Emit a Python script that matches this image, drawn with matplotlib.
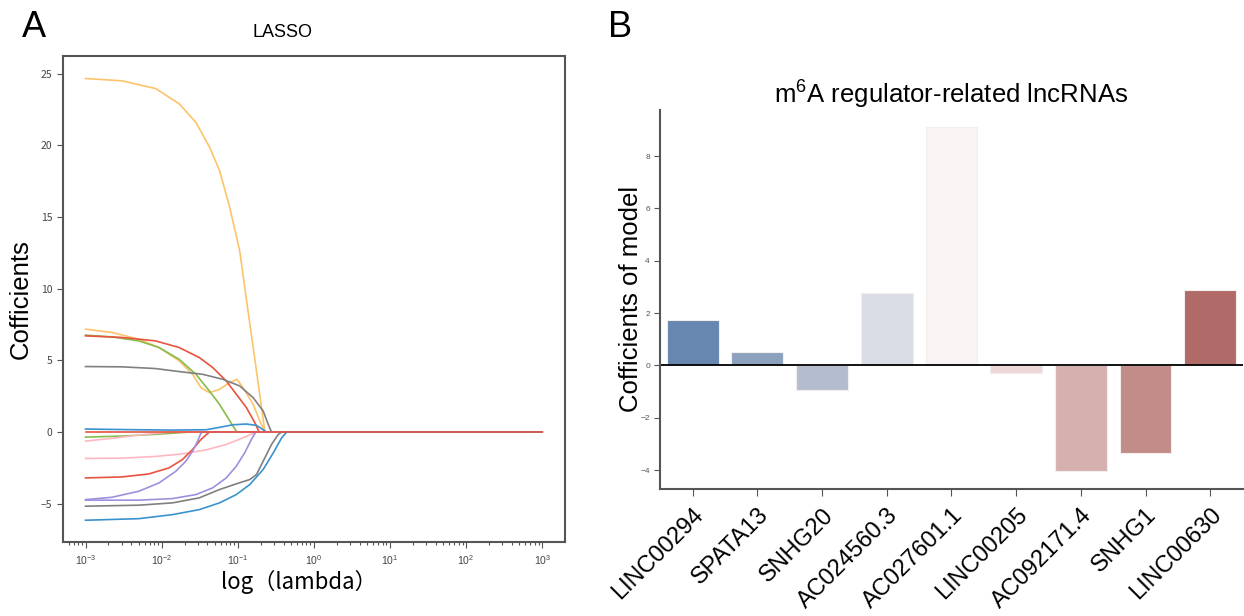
import matplotlib
matplotlib.use("Agg")
import matplotlib.pyplot as plt
import numpy as np

plt.rcParams["font.family"] = ["Liberation Sans", "DejaVu Sans"]
plt.rcParams["mathtext.fontset"] = "custom"
plt.rcParams["mathtext.rm"] = "Liberation Sans"

# ---- panel A: LASSO coefficient paths (x = log10 lambda) ----
ORANGE_BIG_X = [-3.0, -2.523, -2.08, -1.77, -1.55, -1.373, -1.24, -1.107, -0.975, -0.887, -0.763, -0.643, 3.0]
ORANGE_BIG_Y = [24.66, 24.5, 23.96, 22.9, 21.6, 19.9, 18.25, 15.7, 12.66, 9.28, 4.6, 0.0, 0.0]

ORANGE_X = [-3.0, -2.655, -2.301, -2.036, -1.771, -1.594, -1.484, -1.373, -1.24, -1.107, -1.01, -0.931, -0.798, -0.71, -0.643, 3.0]
ORANGE_Y = [7.18, 6.95, 6.48, 5.9, 4.97, 4.03, 3.1, 2.75, 2.98, 3.45, 3.68, 3.1, 1.94, 0.77, 0.0, 0.0]

GREEN_X = [-3.0, -2.655, -2.301, -2.036, -1.771, -1.55, -1.373, -1.24, -1.13, -1.063, -1.01, 3.0]
GREEN_Y = [6.76, 6.64, 6.36, 5.9, 5.08, 4.03, 2.87, 1.94, 1.0, 0.42, 0.0, 0.0]

RED_X = [-3.0, -2.523, -2.081, -1.771, -1.506, -1.329, -1.152, -1.019, -0.887, -0.776, -0.719, 3.0]
RED_Y = [6.71, 6.6, 6.36, 5.9, 5.2, 4.5, 3.57, 2.64, 1.71, 0.66, 0.0, 0.0]

GRAY_X = [-3.0, -2.523, -2.081, -1.771, -1.462, -1.196, -0.975, -0.798, -0.666, -0.6, -0.556, 3.0]
GRAY_Y = [4.57, 4.55, 4.43, 4.22, 4.03, 3.68, 3.22, 2.4, 1.47, 0.54, 0.0, 0.0]

BLUE_X = [-3.0, -2.301, -1.859, -1.417, -1.24, -1.063, -0.887, -0.754, -0.666, -0.622, 3.0]
BLUE_Y = [0.21, 0.16, 0.14, 0.16, 0.33, 0.51, 0.56, 0.47, 0.16, 0.0, 0.0]

GREEN_NEG_X = [-3.0, -2.523, -2.081, -1.771, -1.64, 3.0]
GREEN_NEG_Y = [-0.35, -0.28, -0.16, -0.05, 0.0, 0.0]

PINK_SMALL_X = [-3.0, -2.655, -2.301, -2.036, -1.9, 3.0]
PINK_SMALL_Y = [-0.63, -0.44, -0.21, -0.07, 0.0, 0.0]

PINK_X = [-3.0, -2.523, -2.081, -1.727, -1.417, -1.152, -0.931, -0.776, -0.75, 3.0]
PINK_Y = [-1.84, -1.82, -1.7, -1.52, -1.24, -0.87, -0.4, -0.05, 0.0, 0.0]

RED_NEG_X = [-3.0, -2.523, -2.169, -1.904, -1.727, -1.594, -1.484, -1.373, 3.0]
RED_NEG_Y = [-3.2, -3.13, -2.92, -2.5, -1.92, -1.22, -0.52, 0.0, 0.0]

PURPLE_X = [-3.0, -2.655, -2.301, -2.036, -1.815, -1.683, -1.594, -1.528, -1.484, -1.46, 3.0]
PURPLE_Y = [-4.71, -4.55, -4.13, -3.55, -2.74, -2.04, -1.34, -0.65, -0.07, 0.0, 0.0]

PURPLE2_X = [-3.0, -2.301, -1.859, -1.55, -1.329, -1.152, -1.019, -0.909, -0.82, -0.763, 3.0]
PURPLE2_Y = [-4.75, -4.75, -4.64, -4.36, -3.89, -3.2, -2.38, -1.45, -0.51, 0.0, 0.0]

GRAY_NEG_X = [-3.0, -2.301, -1.859, -1.506, -1.24, -1.019, -0.842, -0.754, -0.666, -0.556, -0.467, -0.423, 3.0]
GRAY_NEG_Y = [-5.17, -5.1, -4.94, -4.59, -4.01, -3.61, -3.31, -2.96, -2.03, -0.86, -0.16, 0.0, 0.0]

BLUE_NEG_X = [-3.0, -2.301, -1.859, -1.506, -1.24, -1.019, -0.842, -0.666, -0.533, -0.423, -0.357, 3.0]
BLUE_NEG_Y = [-6.15, -6.04, -5.76, -5.41, -4.94, -4.36, -3.66, -2.61, -1.45, -0.4, 0.0, 0.0]

ZERO_X = [-3.0, 3.0]
ZERO_Y = [0.0, 0.0]

LAMBDA_TICKS = [1e-3, 1e-2, 1e-1, 1e0, 1e1, 1e2, 1e3]

# ---- panel B: model coefficients ----
GENES = ["LINC00294", "SPATA13", "SNHG20", "AC024560.3", "AC027601.1",
         "LINC00205", "AC092171.4", "SNHG1", "LINC00630"]
COEFS = [1.72, 0.52, -0.92, 2.75, 9.1, -0.27, -4.05, -3.35, 2.87]
BAR_COLORS = ["#6787b0", "#8ca1be", "#b4bdcf", "#d9dde6", "#f8f4f3",
              "#edd6d6", "#d6b0ae", "#c28c89", "#b06b68"]

PATH_STYLE = [
    (ORANGE_BIG_X, ORANGE_BIG_Y, "#fdc36a"),
    (ORANGE_X, ORANGE_Y, "#fdc36a"),
    (GREEN_X, GREEN_Y, "#86bc4b"),
    (RED_X, RED_Y, "#e8533f"),
    (GRAY_X, GRAY_Y, "#808080"),
    (BLUE_X, BLUE_Y, "#3a92cf"),
    (GREEN_NEG_X, GREEN_NEG_Y, "#86bc4b"),
    (PINK_SMALL_X, PINK_SMALL_Y, "#ffb8c2"),
    (PINK_X, PINK_Y, "#ffb8c2"),
    (RED_NEG_X, RED_NEG_Y, "#e8533f"),
    (PURPLE_X, PURPLE_Y, "#9d91de"),
    (PURPLE2_X, PURPLE2_Y, "#9d91de"),
    (GRAY_NEG_X, GRAY_NEG_Y, "#808080"),
    (BLUE_NEG_X, BLUE_NEG_Y, "#3a92cf"),
    (ZERO_X, ZERO_Y, "#e8533f"),
]

SPINE = "#555555"

fig = plt.figure(figsize=(12.44, 6.16), dpi=100)

# ---------- A ----------
ax1 = fig.add_axes([0.0504, 0.1196, 0.4038, 0.7888])
for xs, ys, c in PATH_STYLE:
    ax1.plot(10.0 ** np.array(xs), ys, color=c, linewidth=1.2)
ax1.set_xscale("log")
ax1.set_xticks(LAMBDA_TICKS)
ax1.set_yticks([-5, 0, 5, 10, 15, 20, 25])
for s in ax1.spines.values():
    s.set_color(SPINE)
    s.set_linewidth(1.5)
ax1.tick_params(axis="both", which="both", colors=SPINE, labelsize=7.5,
                labelcolor="#444444", width=0.8)
ax1.tick_params(axis="both", which="major", length=4)
ax1.tick_params(axis="x", which="minor", length=2.5)
for lab in ax1.get_yticklabels():
    lab.set_family(["Noto Sans CJK SC", "DejaVu Sans"])
ax1.set_title("LASSO", fontsize=13, pad=14, x=0.437)
ax1.set_xlabel("log（lambda）", fontsize=16,
               family=["Noto Sans CJK SC", "DejaVu Sans"])
ax1.xaxis.set_label_coords(0.471, -0.056)
ax1.xaxis.label.set_va("top")
ax1.set_ylabel("Cofficients", fontsize=18.5, labelpad=6)

# ---------- B ----------
ax2 = fig.add_axes([0.5308, 0.2067, 0.4681, 0.6147])
xpos = np.arange(len(GENES))
ax2.bar(xpos, COEFS, width=0.8, color=BAR_COLORS, edgecolor="#f2eeee", linewidth=0.8)
ax2.axhline(0, color="black", linewidth=1.3)
ax2.set_xlim(-0.5, len(GENES) - 0.5)
ax2.set_yticks([-4, -2, 0, 2, 4, 6, 8])
ax2.set_xticks(xpos)
ax2.set_xticklabels(GENES, rotation=45, ha="right", va="top",
                    rotation_mode="anchor", fontsize=17)
ax2.spines["top"].set_visible(False)
ax2.spines["right"].set_visible(False)
for side in ("left", "bottom"):
    ax2.spines[side].set_color(SPINE)
    ax2.spines[side].set_linewidth(1.5)
ax2.tick_params(axis="y", colors=SPINE, labelsize=6, labelcolor="#555555", length=4, width=0.8)
ax2.tick_params(axis="x", colors=SPINE, length=5, width=0.8, pad=6, labelcolor="black")
ax2.set_title(r"m$^{\mathdefault{6}}$A regulator-related lncRNAs", fontsize=18.5, pad=4)
ax2.set_ylabel("Cofficients of model", fontsize=18.5, labelpad=-2)

fig.text(0.018, 0.94, "A", fontsize=26)
fig.text(0.489, 0.94, "B", fontsize=26)

fig.savefig("out.png", dpi=100)
